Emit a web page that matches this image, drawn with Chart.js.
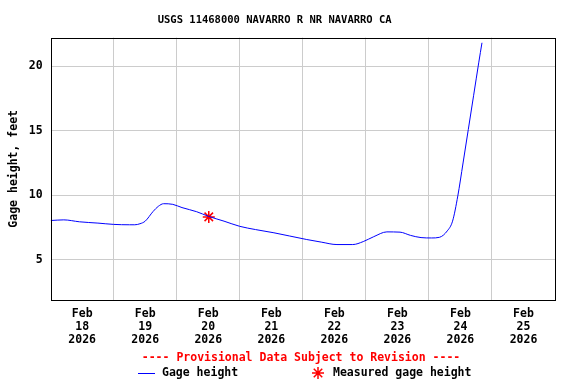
<!DOCTYPE html>
<html>
<head>
<meta charset="utf-8">
<script src="https://cdn.jsdelivr.net/npm/chart.js@4/dist/chart.umd.min.js"></script>
<style>
  html, body { margin: 0; padding: 0; background: #fff; }
  #wrap { width: 576px; height: 384px; }
</style>
</head>
<body>
<div id="wrap"><canvas id="gageChart"></canvas></div>
<script>
// hours since Feb 18 2026 00:00
const hours = [0, 5, 11, 18, 24, 30, 32, 34, 36, 39, 41, 43, 46.5, 50, 55.6, 60, 66, 72, 78, 85, 91, 97.5, 103, 109, 115, 119, 123, 128, 133, 137, 141, 145, 148, 151, 153, 155, 157, 159, 161, 163, 164.2];
const gageHeight = [8.05, 8.1, 7.95, 7.85, 7.75, 7.72, 7.72, 7.8, 8.0, 8.75, 9.15, 9.35, 9.3, 9.05, 8.73, 8.38, 8.0, 7.6, 7.35, 7.1, 6.85, 6.58, 6.38, 6.19, 6.19, 6.42, 6.8, 7.17, 7.15, 6.9, 6.73, 6.7, 6.75, 7.25, 8.0, 9.95, 12.5, 15.1, 17.7, 20.3, 21.8];
const measuredHours = [60.2];
const measuredHeight = [8.33];
const dayLabels = ['18', '19', '20', '21', '22', '23', '24', '25'];
const yTicks = [5, 10, 15, 20];

const monoBold = { family: "'DejaVu Sans Mono', monospace", size: 11.5, weight: 'bold' };
const fontStr = "bold 11.5px 'DejaVu Sans Mono', monospace";

// plot frame, provisional-data note and legend row
const extras = {
  id: 'extras',
  afterDraw(chart) {
    const a = chart.chartArea, c = chart.ctx;
    c.save();
    c.strokeStyle = '#000';
    c.lineWidth = 1;
    c.strokeRect(Math.round(a.left) + 0.5, Math.round(a.top) + 0.5, Math.round(a.right - a.left), Math.round(a.bottom - a.top));

    c.font = fontStr;
    c.textBaseline = 'middle';
    c.textAlign = 'center';
    c.fillStyle = '#ff0000';
    c.fillText('---- Provisional Data Subject to Revision ----', 301, 358);

    const y = 373;
    const ds = chart.data.datasets;
    c.textAlign = 'left';
    c.strokeStyle = ds[0].borderColor;
    c.beginPath();
    c.moveTo(138, y + 0.5);
    c.lineTo(155, y + 0.5);
    c.stroke();
    c.fillStyle = '#000';
    c.fillText(ds[0].label, 162, y);
    c.strokeStyle = ds[1].borderColor;
    c.lineWidth = 1.5;
    Chart.helpers.drawPoint(c, { pointStyle: 'star', radius: 6, borderWidth: 1.5 }, 318, y);
    c.fillText(ds[1].label, 333, y);
    c.restore();
  }
};

new Chart(document.getElementById('gageChart'), {
  type: 'scatter',
  data: {
    datasets: [{
      label: 'Gage height',
      data: hours.map((h, i) => ({ x: h, y: gageHeight[i] })),
      showLine: true,
      borderColor: '#0000ff',
      backgroundColor: '#0000ff',
      borderWidth: 1,
      pointRadius: 0,
      cubicInterpolationMode: 'monotone'
    }, {
      label: 'Measured gage height',
      data: measuredHours.map((h, i) => ({ x: h, y: measuredHeight[i] })),
      pointStyle: 'star',
      pointRadius: 6,
      borderColor: '#ff0000',
      backgroundColor: '#ff0000',
      borderWidth: 1.5
    }]
  },
  options: {
    responsive: true,
    maintainAspectRatio: false,
    animation: false,
    layout: { padding: { left: 7, right: 21, top: 4, bottom: 29 } },
    scales: {
      x: {
        type: 'linear',
        min: 0,
        max: 192,
        afterBuildTicks: axis => {
          const t = [];
          for (let v = 12; v < 192; v += 12) t.push({ value: v });
          axis.ticks = t;
        },
        grid: {
          color: ctx => (ctx.tick && ctx.tick.value % 24 === 0) ? '#cccccc' : 'rgba(0,0,0,0)',
          drawTicks: false
        },
        border: { display: false },
        ticks: {
          color: '#000',
          font: Object.assign({ lineHeight: 1.13 }, monoBold),
          padding: 8,
          maxRotation: 0,
          autoSkip: false,
          callback: v => (v % 24 === 12) ? ['Feb', dayLabels[(v - 12) / 24], '2026'] : ''
        }
      },
      y: {
        min: 1.9,
        max: 22.2,
        afterBuildTicks: axis => { axis.ticks = yTicks.map(v => ({ value: v })); },
        grid: { color: '#cccccc', drawTicks: false },
        border: { display: false },
        ticks: { color: '#000', font: monoBold, padding: 8 },
        title: { display: true, text: 'Gage height, feet', color: '#000', font: monoBold, padding: { top: 0, bottom: 0 } }
      }
    },
    plugins: {
      title: {
        display: true,
        text: 'USGS 11468000 NAVARRO R NR NAVARRO CA  ',
        color: '#000',
        font: { family: "'DejaVu Sans Mono', monospace", size: 10.5, weight: 'bold' },
        padding: { top: 10, bottom: 11 }
      },
      legend: { display: false },
      tooltip: { enabled: false }
    }
  },
  plugins: [extras]
});
</script>
</body>
</html>
